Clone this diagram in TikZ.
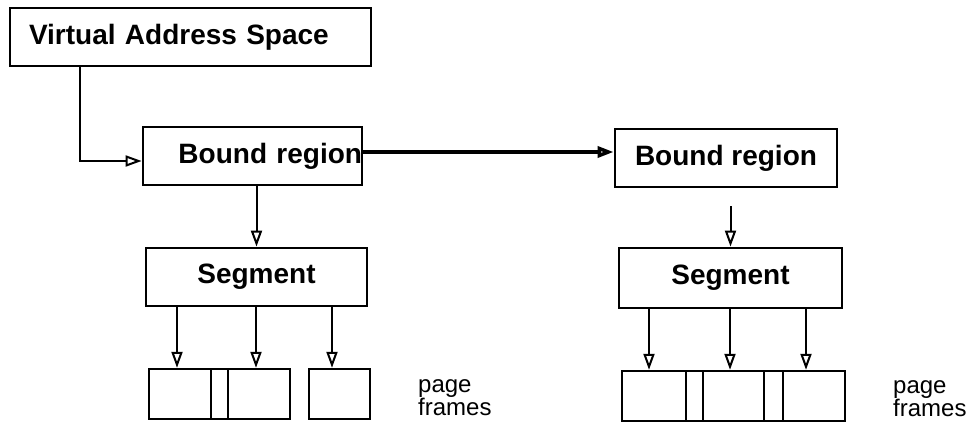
\documentclass[tikz,border=0pt]{standalone}
\usepackage{fontspec}
\setmainfont{Liberation Sans}
\usetikzlibrary{arrows.meta}

\begin{document}
\begin{tikzpicture}[x=1pt, y=-1pt,
    box/.style={draw, line width=2.8pt, inner sep=0pt, minimum height=58pt,
                font=\fontsize{28}{30}\selectfont\bfseries},
    pageframe/.style={draw, line width=2.4pt, inner sep=0pt, minimum height=50pt},
    arr/.style={-{Triangle[open, length=16pt, width=11pt]}, line width=2pt},
    lbl/.style={align=left, anchor=north west, inner sep=0pt,
                font=\fontsize{24}{22}\selectfont}
  ]
    \useasboundingbox (0,0) rectangle (971,422);

    % boxes
    \node[box, text width=323pt, inner xsep=19pt, align=left] (vas) at (190.5,37) {Virtual Address Space};
    \node[box, text width=219pt, align=right] (br1) at (252.5,156) {Bound region};
    \node[box, minimum width=222pt] (br2) at (726,158) {Bound region};
    \node[box, minimum width=221pt] (seg1) at (256.5,277) {Segment};
    \node[box, minimum width=223pt, minimum height=60pt] (seg2) at (730.5,278) {Segment};

    % page frames
    \foreach \n/\x/\w in {a/180/62, b/219.5/17, c/259/62, d/339.5/61}
      \node[pageframe, minimum width=\w pt] (l\n) at (\x,394) {};
    \foreach \n/\x/\w in {a/654/64, b/694.5/17, c/733.5/61, d/773.5/19, e/814/62}
      \node[pageframe, minimum width=\w pt] (r\n) at (\x,396) {};
    \node[lbl] (lpf) at (418,379) {page\\frames};
    \node[lbl] (rpf) at (893,380) {page\\frames};

    % connectors
    \draw[arr] ([xshift=-110.5pt]vas.south) |- ([yshift=-5pt]br1.west);
    \draw[arr, line width=3.5pt] ([yshift=4pt]br1.east) -- ([yshift=4pt]br1.east -| br2.west);
    \draw[arr] (br1.south -| seg1.north) -- (seg1.north);
    \draw[arr, shorten <=18pt] (br2.south -| seg2.north) -- (seg2.north);
    \foreach \n/\dx in {a/-3, c/-3, d/-7.5} {
      \coordinate (t) at ([xshift=\dx pt]l\n.north);
      \draw[arr] (t |- seg1.south) -- (t);
    }
    \foreach \n/\dx in {a/-5, c/-3.5, e/-8} {
      \coordinate (t) at ([xshift=\dx pt]r\n.north);
      \draw[arr] (t |- seg2.south) -- (t);
    }
\end{tikzpicture}
\end{document}
